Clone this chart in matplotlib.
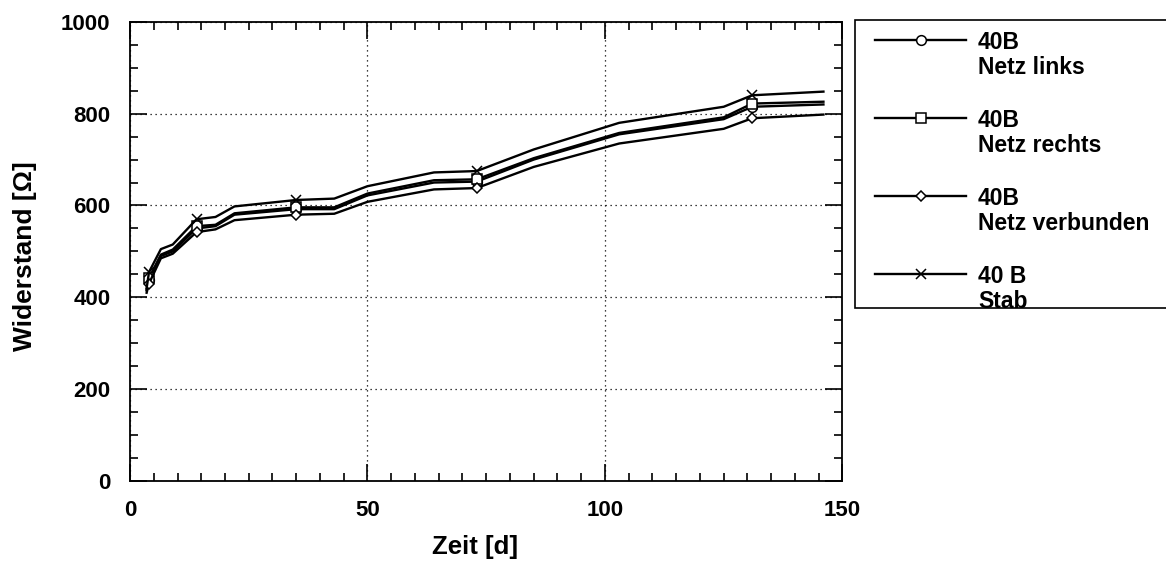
import numpy as np
import matplotlib
matplotlib.use("Agg")
import matplotlib.pyplot as plt
from matplotlib.transforms import ScaledTranslation

plt.rcParams['font.family'] = ['Liberation Sans', 'DejaVu Sans']
plt.rcParams['font.weight'] = 'bold'
plt.rcParams['axes.labelweight'] = 'bold'

# Zeit [d]
zeit = [3.5, 4, 6.5, 9, 14, 18, 22, 35, 43, 50, 64, 73, 85, 103, 125, 131, 146]

netz_links = [415, 438, 490, 500, 550, 555, 580, 592, 592, 622, 650, 652, 700, 755, 788, 815, 820]
netz_rechts = [417, 442, 493, 504, 555, 558, 583, 596, 596, 626, 655, 657, 703, 758, 792, 822, 826]
netz_verbunden = [410, 430, 485, 495, 542, 548, 568, 580, 582, 608, 635, 638, 684, 735, 767, 790, 798]
stab = [420, 455, 505, 515, 570, 575, 598, 612, 615, 642, 672, 675, 722, 780, 815, 840, 848]

labels = ['40B\nNetz links', '40B\nNetz rechts', '40B\nNetz verbunden', '40 B\nStab']
markers = ['o', 's', 'D', 'x']
marker_idx = [1, 4, 7, 11, 15]

fig = plt.figure(figsize=(11.66, 5.74), dpi=100)
ax = fig.add_axes([0.1115, 0.162, 0.611, 0.8])

series = [netz_links, netz_rechts, netz_verbunden, stab]
for vals, m, lab in zip(series, markers, labels):
    ms = 5 if m == 'D' else 7
    ax.plot(zeit, vals, color='black', lw=1.7, marker=m, ms=ms, mfc='white',
            mec='black', mew=1.1, markevery=marker_idx, label=lab)

ax.set_xlim(0, 150)
ax.set_ylim(0, 1000)
ax.set_xticks([0, 50, 100, 150])
ax.set_yticks([0, 200, 400, 600, 800, 1000])
ax.set_xticks(np.arange(0, 151, 5), minor=True)
ax.set_yticks(np.arange(0, 1001, 50), minor=True)
ax.tick_params(which='both', direction='in', top=True, right=True, labelsize=16, width=1.2)
ax.tick_params(which='major', length=12, pad=14)
ax.tick_params(which='minor', length=6)
ax.grid(True, which='major', color='black', linestyle=(0, (1, 3)), linewidth=0.9)
for s in ax.spines.values():
    s.set_linewidth(1.3)

ax.set_xlabel('Zeit [d]', fontsize=18.5)
ax.set_ylabel('Widerstand [\u03a9]', fontsize=19)
ax.xaxis.set_label_coords(0.484, -0.118)
ax.yaxis.set_label_coords(-0.131, 0.49)

# legend box runs off the right edge of the figure
leg = ax.legend(loc='upper left', bbox_to_anchor=(1.0177, 0, 0.46, 1.005), mode='expand',
                fontsize=16.5, frameon=True, fancybox=False, edgecolor='black', framealpha=1,
                handlelength=4.0, handletextpad=0.5, labelspacing=1.32,
                borderpad=0.15, borderaxespad=0)
leg.get_frame().set_linewidth(1.2)
shift = ScaledTranslation(0.163, -0.083, fig.dpi_scale_trans)
for t in leg.get_texts():
    t.set_linespacing(1.1)
    t.set_transform(t.get_transform() + shift)
# move the handle up to the first line of each label
for h in leg.legend_handles:
    h.set_transform(h.get_transform() + ScaledTranslation(0, 0.16, fig.dpi_scale_trans) + shift)

fig.savefig('out.png', dpi=100)
